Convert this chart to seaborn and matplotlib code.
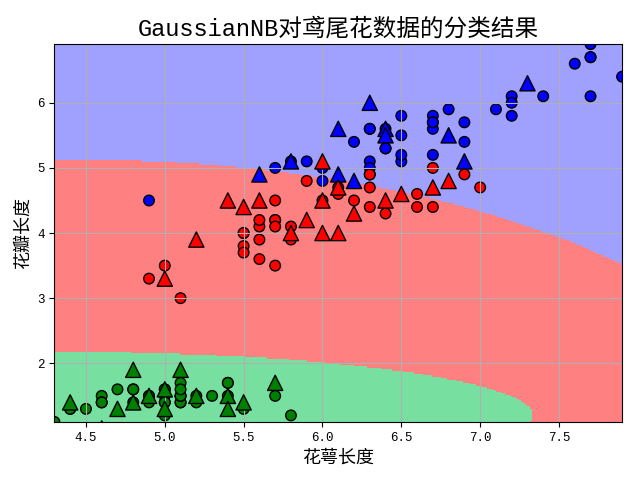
import numpy as np
import pandas as pd
import matplotlib
matplotlib.use('Agg')
import matplotlib.pyplot as plt
from matplotlib.colors import ListedColormap
import seaborn as sns

plt.rcParams['font.family'] = ['Liberation Mono', 'Noto Sans CJK SC']

# sepal length / petal length, training points per class
train_x_setosa = [5.1, 4.9, 4.6, 5.0, 5.4, 4.6, 5.0, 4.9, 4.8, 4.3, 5.8, 5.7, 5.1, 5.1, 5.4, 5.1, 5.1, 5.0, 5.2, 4.7, 4.8, 5.4, 5.2, 5.0, 5.5, 4.9, 4.4, 5.1, 4.5, 4.4, 5.0, 4.8, 5.1, 4.6, 5.3, 5.0]
train_y_setosa = [1.4, 1.4, 1.5, 1.4, 1.7, 1.4, 1.5, 1.5, 1.6, 1.1, 1.2, 1.5, 1.4, 1.5, 1.7, 1.5, 1.7, 1.6, 1.4, 1.6, 1.6, 1.5, 1.5, 1.2, 1.3, 1.5, 1.3, 1.5, 1.3, 1.3, 1.6, 1.4, 1.6, 1.4, 1.5, 1.4]
train_x_versicolor = [7.0, 6.9, 5.5, 5.7, 6.3, 4.9, 6.6, 5.0, 5.6, 6.7, 5.8, 6.2, 5.6, 5.9, 6.3, 6.1, 6.4, 6.6, 6.7, 6.0, 5.7, 5.5, 5.5, 5.8, 6.3, 5.6, 5.5, 6.1, 5.6, 5.7, 5.7, 5.1, 5.7]
train_y_versicolor = [4.7, 4.9, 4.0, 4.5, 4.7, 3.3, 4.6, 3.5, 3.6, 4.4, 4.1, 4.5, 3.9, 4.8, 4.9, 4.7, 4.3, 4.4, 5.0, 4.5, 3.5, 3.8, 3.7, 3.9, 4.4, 4.1, 4.0, 4.6, 4.2, 4.2, 4.2, 3.0, 4.1]
train_x_virginica = [7.1, 6.3, 6.5, 7.6, 4.9, 6.7, 7.2, 6.5, 6.4, 5.7, 5.8, 6.4, 6.5, 7.7, 7.7, 6.0, 6.9, 7.7, 6.3, 6.7, 7.2, 7.2, 7.4, 7.9, 6.4, 6.3, 7.7, 6.3, 6.0, 6.9, 6.7, 6.8, 6.7, 6.7, 6.3, 6.5, 6.2, 5.9]
train_y_virginica = [5.9, 5.6, 5.8, 6.6, 4.5, 5.8, 6.1, 5.1, 5.3, 5.0, 5.1, 5.3, 5.5, 6.7, 6.9, 5.0, 5.7, 6.7, 4.9, 5.7, 6.0, 5.8, 6.1, 6.4, 5.6, 5.1, 6.1, 5.6, 4.8, 5.4, 5.6, 5.9, 5.7, 5.2, 5.0, 5.2, 5.4, 5.1]

# test points, drawn as triangles
test_x_setosa = [4.7, 4.4, 5.4, 4.8, 5.4, 5.7, 4.6, 4.8, 5.0, 5.2, 5.5, 4.9, 5.0, 5.1]
test_y_setosa = [1.3, 1.4, 1.5, 1.4, 1.3, 1.7, 1.0, 1.9, 1.6, 1.5, 1.4, 1.5, 1.3, 1.9]
test_x_versicolor = [6.4, 6.5, 5.2, 5.0, 5.9, 6.0, 6.1, 6.1, 5.6, 6.8, 6.0, 5.4, 6.0, 6.7, 5.5, 5.8, 6.2]
test_y_versicolor = [4.5, 4.6, 3.9, 3.3, 4.2, 4.0, 4.7, 4.0, 4.5, 4.8, 5.1, 4.5, 4.5, 4.7, 4.4, 4.0, 4.3]
test_x_virginica = [6.3, 7.3, 6.1, 6.4, 6.4, 6.8, 6.9, 5.6, 5.8, 6.1, 6.2]
test_y_virginica = [6.0, 6.3, 5.6, 5.6, 5.5, 5.5, 5.1, 4.9, 5.1, 4.9, 4.8]

# extra log prior per class, moves the red/blue border down to where the picture has it
log_prior_shift = [0.0, 0.0, 0.8]

cm_light = ListedColormap(['#77E0A0', '#FF8080', '#A0A0FF'])
palette = {'setosa': 'g', 'versicolor': 'r', 'virginica': 'b'}


def make_df(xs, ys, names):
    parts = []
    for x, y, name in zip(xs, ys, names):
        parts.append(pd.DataFrame({'x': x, 'y': y, 'cls': name}))
    return pd.concat(parts, ignore_index=True)


names = ['setosa', 'virginica', 'versicolor']
train = make_df([train_x_setosa, train_x_virginica, train_x_versicolor],
                [train_y_setosa, train_y_virginica, train_y_versicolor], names)
test = make_df([test_x_setosa, test_x_virginica, test_x_versicolor],
               [test_y_setosa, test_y_virginica, test_y_versicolor], names)

# gaussian naive bayes on the training points, done by hand
classes = ['setosa', 'versicolor', 'virginica']
grid_x, grid_y = np.meshgrid(np.linspace(4.3, 7.9, 256), np.linspace(1.1, 6.9, 256))
scores = []
for c, shift in zip(classes, log_prior_shift):
    g = train[train['cls'] == c]
    mx, my = g['x'].mean(), g['y'].mean()
    vx, vy = g['x'].var(ddof=0), g['y'].var(ddof=0)
    s = np.log(len(g) / len(train)) + shift - 0.5 * np.log(vx * vy)
    s = s - (grid_x - mx) ** 2 / (2 * vx) - (grid_y - my) ** 2 / (2 * vy)
    scores.append(s)
pred = np.argmax(scores, axis=0)

fig, ax = plt.subplots(figsize=(6.4, 4.8), dpi=100)
ax.pcolormesh(grid_x, grid_y, pred, cmap=cm_light, shading='auto')
sns.scatterplot(data=train, x='x', y='y', hue='cls', palette=palette, s=58,
                edgecolor='k', linewidth=1, legend=False, ax=ax)
sns.scatterplot(data=test, x='x', y='y', hue='cls', palette=palette, s=120, marker='^',
                edgecolor='k', linewidth=1, legend=False, zorder=10, ax=ax)
ax.set_xlim(4.3, 7.9)
ax.set_ylim(1.1, 6.9)
ax.tick_params(labelsize=9)
ax.set_xlabel('花萼长度', fontsize=13)
ax.set_ylabel('花瓣长度', fontsize=13)
ax.set_title('GaussianNB对鸢尾花数据的分类结果', fontsize=17)
ax.grid(True)
fig.subplots_adjust(left=0.085, right=0.972, top=0.908, bottom=0.121)
fig.savefig('out.png', dpi=100)
